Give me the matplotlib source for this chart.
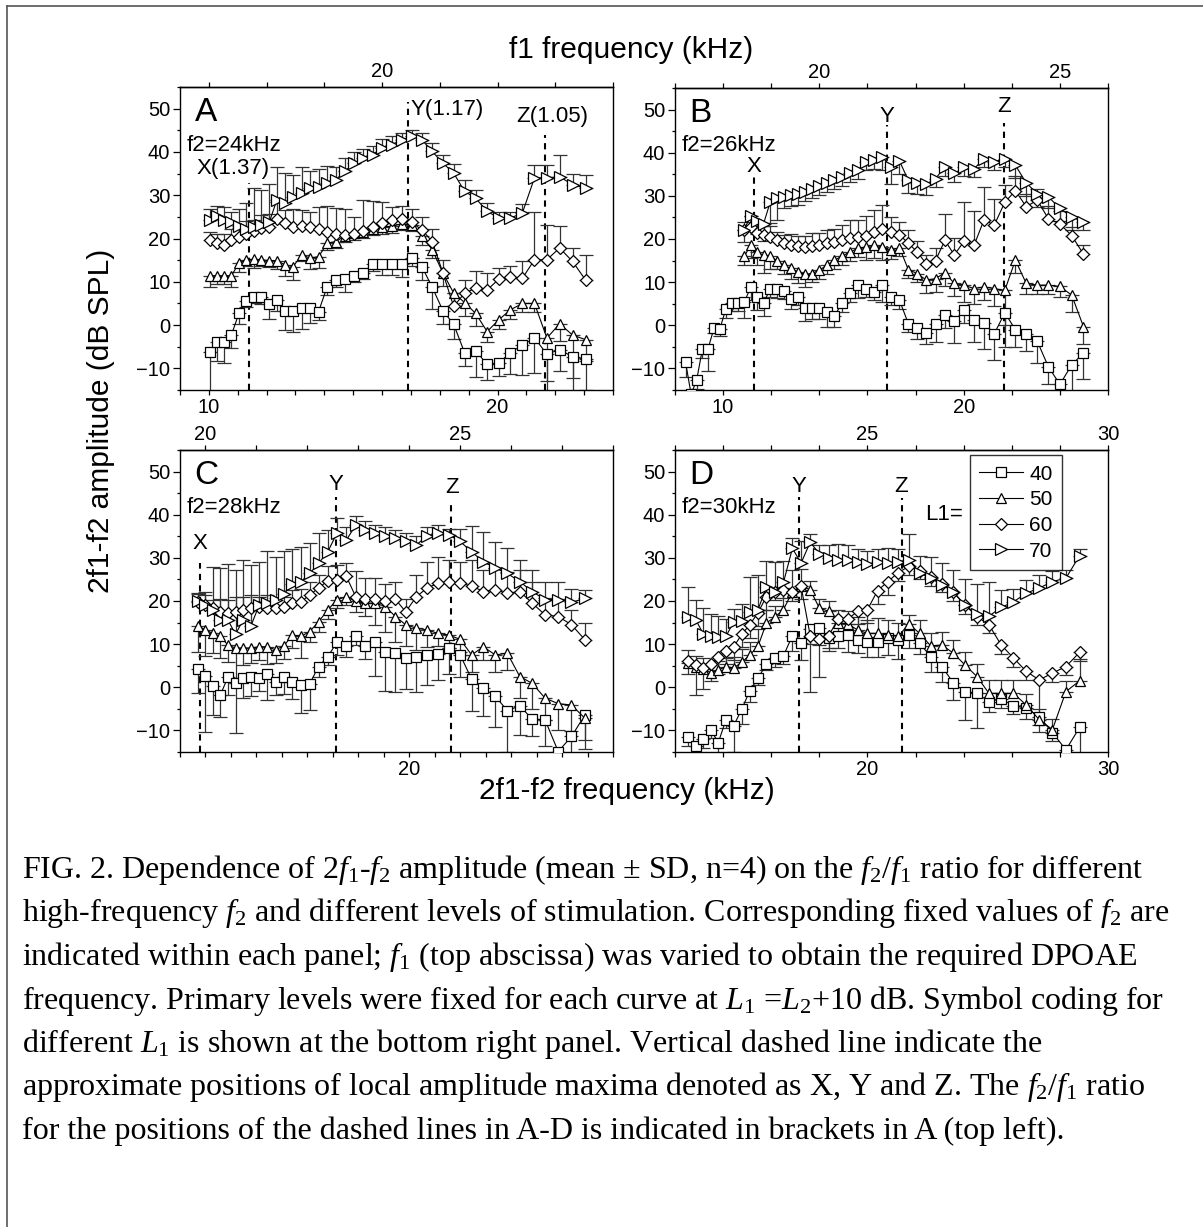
import numpy as np
import matplotlib
matplotlib.use("Agg")
import matplotlib.pyplot as plt
from matplotlib.lines import Line2D
from matplotlib.ticker import MultipleLocator

# 2f1-f2 frequency (kHz) of the measured points (f2/f1 from 1.41 down to 1.02)
A_FDP = [10.04, 10.29, 10.53, 10.78, 11.04, 11.29, 11.56, 11.82, 12.09, 12.36,
         12.64, 12.92, 13.21, 13.50, 13.80, 14.10, 14.40, 14.71, 15.02, 15.34,
         15.67, 16.00, 16.34, 16.68, 17.03, 17.38, 17.74, 18.11, 18.48, 18.86,
         19.24, 19.64, 20.04, 20.44, 20.86, 21.28, 21.71, 22.15, 22.60, 23.06]
B_FDP = [8.44, 8.67, 8.90, 9.14, 9.37, 9.62, 9.86, 10.11, 10.36, 10.62,
         10.88, 11.14, 11.41, 11.68, 11.96, 12.24, 12.52, 12.81, 13.10, 13.39,
         13.69, 14.00, 14.31, 14.63, 14.94, 15.27, 15.60, 15.94, 16.28, 16.62,
         16.98, 17.33, 17.70, 18.07, 18.44, 18.83, 19.22, 19.61, 20.02, 20.43,
         20.85, 21.27, 21.71, 22.15, 22.60, 23.06, 23.52, 24.00, 24.49, 24.98]
C_FDP = [11.72, 12.00, 12.29, 12.58, 12.88, 13.18, 13.48, 13.79, 14.11, 14.42,
         14.75, 15.08, 15.41, 15.75, 16.09, 16.44, 16.80, 17.16, 17.53, 17.90,
         18.28, 18.67, 19.06, 19.46, 19.86, 20.28, 20.70, 21.12, 21.56, 22.00,
         22.45, 22.91, 23.38, 23.85, 24.34, 24.83, 25.33, 25.85, 26.37, 26.90]
D_FDP = [12.55, 12.86, 13.17, 13.48, 13.80, 14.12, 14.44, 14.78, 15.11, 15.45,
         15.80, 16.15, 16.51, 16.88, 17.24, 17.62, 18.00, 18.39, 18.78, 19.18,
         19.59, 20.00, 20.42, 20.85, 21.28, 21.72, 22.17, 22.63, 23.10, 23.57,
         24.05, 24.55, 25.05, 25.56, 26.07, 26.60, 27.14, 27.69, 28.25, 28.82]

F2_KHZ = [24, 26, 28, 30]
LEVELS = [40, 50, 60, 70]

# panel A, f2 = 24 kHz
A40 = [-6.3, -3.8, -3.8, -2.3, 2.7, 5.6, 6.6, 6.4, 4.9, 5.7,
       3.3, 3.3, 4.0, 4.0, 3.1, 8.9, 10.3, 10.6, 11.4, 12.1,
       14.1, 14.1, 14.1, 14.1, 15.6, 13.5, 8.7, 3.3, 0.2, -6.4,
       -5.9, -9.1, -8.8, -6.4, -4.6, -3.0, -6.7, -5.7, -7.3, -7.9]
A40_SD = [9, 4.5, 5, 3, 2.5, 1.5, 1.5, 1.5, 3.5, 2.5,
          4.5, 5, 5, 3.5, 2, 2, 1.5, 3, 1.5, 1.5,
          1.5, 2.5, 2.5, 3, 2, 3, 5, 3, 3.5, 3,
          6, 3.5, 3, 5, 7, 8, 9, 5, 8, 7]
A50 = [11.4, 11.4, 11.4, 11.4, 14.3, 15.1, 15.2, 15.1, 14.9, 14.9,
       13.9, 13.5, 16.2, 15.5, 15.8, 18.9, 19.3, 20.6, 21.2, 21.6,
       22.2, 22.6, 22.8, 23.4, 23.2, 20.5, 17.4, 12.0, 7.4, 5.2,
       2.7, -1.5, 1.2, 3.5, 5.0, 5.0, -3.0, 0.3, -2.3, -3.4]
A50_SD = [2.5, 2, 2, 2.5, 2, 1.5, 2, 1.5, 1.5, 2,
          2.5, 3, 1.5, 2.5, 2.5, 1.5, 1.5, 1.5, 1.5, 1.5,
          1.5, 1.5, 1.5, 1.5, 1.5, 2, 2, 3, 3, 3,
          3, 2.5, 2, 2, 2, 2, 10, 4, 10, 5]
A60 = [19.6, 19.0, 18.6, 19.6, 20.4, 21.1, 21.8, 22.5, 22.6, 24.4,
       23.5, 22.7, 23.0, 22.6, 22.3, 21.6, 21.0, 20.7, 21.0, 21.8,
       22.6, 23.5, 24.3, 24.5, 23.7, 22.0, 19.3, 12.0, 4.3, 7.4,
       8.5, 8.1, 10.6, 11.2, 10.8, 15.1, 15.1, 17.8, 14.7, 10.3]
A60_SD = [2, 2, 2.5, 2.5, 2, 3, 2.5, 3, 3, 4,
          3, 4, 3.5, 3.5, 5, 6, 6, 6, 4, 7,
          6, 5, 3, 3, 3, 3, 3, 3, 3, 3,
          4, 4, 2.5, 2.5, 4, 11, 8, 5, 3, 6]
A70 = [24.3, 25.1, 24.3, 23.7, 22.8, 22.2, 22.6, 23.2, 23.7, 29.0,
       28.2, 29.7, 30.5, 31.6, 32.0, 32.8, 33.6, 35.5, 37.4, 38.6,
       39.4, 40.9, 41.7, 42.8, 43.6, 42.8, 40.1, 37.4, 35.1, 30.9,
       29.3, 26.3, 24.7, 24.7, 25.9, 34.0, 34.0, 34.3, 32.4, 31.6]
A70_SD = [2.5, 2.5, 3, 2.5, 4, 6, 9, 8, 9, 7.5,
          7, 5, 6, 4, 4, 4, 3, 3, 2.5, 2,
          2, 2, 2, 1.5, 1.5, 1.5, 2, 2, 2, 2.5,
          2, 2, 1.5, 1.5, 2, 3, 3, 5, 2.5, 3]

# panel B, f2 = 26 kHz (L1 = 50..70 start at the 11th point)
B40 = [-8.6, -16, -12.7, -5.5, -5.5, -0.7, -0.9, 3.7, 5.2, 5.2,
       5.3, 8.8, 6.6, 5.1, 8.5, 8.3, 8.0, 6.2, 6.6, 3.9,
       3.9, 3.9, 3.0, 2.2, 5.1, 7.4, 9.3, 8.5, 7.8, 9.3,
       6.6, 5.8, 0.4, -0.6, -1.9, 0.2, 2.4, 1.0, 3.5, 1.2,
       0.6, -2.0, 2.9, -1.0, -2.0, -3.7, -9.6, -13.7, -9.2, -6.4]
B40_SD = [3.5, 2, 2, 2, 5, 1, 1.5, 2, 2, 2,
          3.5, 3, 3, 3, 2, 2, 2, 2.5, 2, 3,
          2.5, 2.5, 3.5, 2.5, 2, 2, 3, 2, 2, 4,
          2, 2, 2, 2.5, 2.5, 4, 3, 5, 3, 5,
          6, 6, 8, 4, 4, 5, 4, 3, 6, 6]
B50 = [16.0, 18.5, 17.0, 16.2, 16.0, 15.0, 13.9, 13.2, 12.4, 11.8,
       12.0, 12.8, 13.9, 15.1, 16.0, 17.0, 17.8, 18.2, 18.5, 18.2,
       17.4, 18.0, 12.9, 12.0, 10.5, 10.8, 12.2, 9.7, 9.3, 8.5,
       8.9, 8.5, 8.1, 15.1, 9.7, 9.3, 9.3, 9.0, 7.0, -0.3]
B50_SD = [2, 3, 3, 4, 3, 2, 2, 2.5, 2.5, 3,
          2, 2, 2, 2, 2, 2, 2, 3, 3, 3,
          2, 2, 2, 2, 3, 3, 3, 3, 4, 3.5,
          3, 4, 8, 3, 2.5, 2, 2, 2.5, 4, 4]
B60 = [22.0, 22.8, 21.4, 20.9, 20.4, 19.7, 19.0, 18.6, 18.3, 18.2,
       18.3, 18.5, 19.0, 19.3, 19.8, 20.3, 20.5, 20.8, 21.7, 22.4,
       21.7, 21.0, 19.0, 17.0, 14.3, 15.0, 19.7, 16.3, 19.5, 18.5,
       24.5, 23.2, 28.5, 31.2, 27.5, 29.0, 24.7, 23.5, 20.8, 16.5]
B60_SD = [2, 2.5, 2, 2, 2.5, 2, 2, 2.5, 2.5, 2.5,
          3, 3, 3, 3, 3.5, 4, 4, 4.5, 5, 5.5,
          3.5, 3, 3, 2.5, 2, 3, 6, 4, 9, 8,
          7.5, 6, 4, 3.5, 3, 2.5, 3, 3, 2, 2]
B70 = [22.2, 25.3, 24.2, 23.5, 28.6, 29.4, 29.8, 30.2, 30.4, 30.8,
       31.5, 32.2, 33.0, 33.6, 34.4, 35.2, 35.9, 37.9, 38.3, 39.0,
       36.7, 38.1, 33.6, 33.0, 32.7, 34.0, 36.7, 35.2, 36.6, 36.3,
       38.6, 37.9, 38.6, 37.1, 33.0, 30.5, 29.8, 27.1, 25.1, 24.0]
B70_SD = [3, 3, 3, 4, 5, 5, 2.5, 2.5, 2.5, 2,
          2, 2, 2, 2, 2, 2, 2, 2, 2, 3,
          4, 3, 3, 2.5, 2.5, 2, 2, 2, 2, 2,
          2, 2, 2, 3, 3, 3, 2.5, 3, 3, 2]

# panel C, f2 = 28 kHz
C40 = [4.2, 2.6, 0.3, -1.8, 2.3, 1.1, 2.1, 2.5, 2.1, 3.0,
       1.3, 2.5, 1.3, 0.6, 0.8, 4.8, 7.1, 10.4, 9.6, 11.8,
       9.6, 10.6, 8.1, 7.9, 6.7, 7.0, 7.5, 7.7, 9.1, 7.5,
       1.9, -0.2, -2.1, -5.4, -4.3, -7.4, -7.5, -14.9, -11.4, -6.4]
C40_SD = [5.6, 13, 6.7, 5, 4, 11.6, 4.5, 4.5, 3, 6,
          3, 4, 4, 6.6, 6, 2.5, 2, 3, 2.5, 2,
          3, 8, 9, 9, 7, 8, 7, 6, 6, 5,
          7.5, 6.5, 7, 9.5, 6.7, 4, 6, 3, 4, 8]
C50 = [14.2, 13.3, 12.5, 11.8, 9.8, 9.1, 9.1, 9.1, 9.4, 9.4,
       8.7, 9.6, 12.1, 11.8, 12.9, 15.2, 17.9, 20.3, 21.0, 19.9,
       19.5, 19.5, 18.7, 16.4, 14.5, 13.7, 13.3, 12.5, 12.1, 11.1,
       7.5, 9.4, 7.5, 7.9, 2.5, 0.9, -2.5, -3.8, -4.1, -7.2]
C50_SD = [6, 6, 4.5, 5, 4, 8, 4, 3.5, 3, 4,
          3, 3, 3, 5, 2.5, 2.5, 2, 2, 2, 2.5,
          3, 5, 6, 6, 5, 5, 4, 3, 3, 3,
          4, 3, 4, 4, 5, 6, 5, 6, 6, 5]
C60 = [19.7, 19.0, 18.3, 17.5, 17.2, 17.5, 17.9, 18.3, 18.5, 18.3,
       18.3, 18.5, 19.5, 19.8, 21.4, 23.0, 24.7, 24.9, 25.7, 21.0,
       20.4, 20.4, 19.9, 20.4, 17.5, 21.0, 23.0, 24.1, 24.5, 24.1,
       23.5, 22.2, 22.6, 21.8, 22.2, 19.5, 16.8, 16.4, 14.5, 11.0]
C60_SD = [2, 2.5, 2, 3, 3, 3.5, 3, 3, 2.5, 3,
          2.5, 2.5, 3, 3, 3, 3, 3.5, 3.5, 3, 6,
          5, 5, 4, 4, 3, 5, 6, 6, 5, 5,
          6, 5, 5, 5, 5, 5, 4, 4, 3.5, 4]
C70 = [19.9, 19.1, 17.9, 15.6, 15.6, 12.3, 15.6, 14.3, 19.1, 19.5,
       20.3, 21.6, 24.0, 24.5, 26.4, 28.7, 31.4, 35.7, 34.1, 37.6,
       36.5, 35.7, 35.1, 34.5, 33.8, 33.0, 35.1, 35.7, 35.3, 33.8,
       31.4, 29.1, 27.6, 26.4, 24.5, 22.2, 20.3, 20.3, 19.7, 20.6]
C70_SD = [2, 3, 10, 12, 13, 15, 14, 14, 10, 12,
          10, 10, 8, 8, 7, 7, 5, 3.5, 3, 2,
          2, 2, 2, 2, 2, 2, 2, 2, 1.5, 3,
          6, 7, 6, 6, 5, 5, 4, 4, 3, 2]

# panel D, f2 = 30 kHz
D40 = [-11.5, -13.5, -12.0, -9.8, -12.8, -7.5, -8.9, -5.0, -0.8, 2.1,
       5.4, 6.8, 7.3, 12.0, 10.3, 13.5, 13.7, 11.5, 12.0, 12.2,
       11.0, 10.6, 10.6, 11.4, 11.0, 12.2, 10.2, 7.1, 4.8, 1.0,
       -1.0, -1.4, -3.3, -2.7, -4.3, -4.8, -6.8, -10.5, -14.5, -9.3]
D40_SD = [2, 2, 2, 2, 3, 2, 6, 3.5, 2.5, 1.5,
          1.5, 2, 2, 3.5, 4, 3.5, 4, 3, 3, 4,
          3, 3.5, 3.5, 4, 4.5, 3, 2.5, 3.5, 3.5, 4,
          6.5, 8, 2.5, 2, 2, 2.5, 2, 2, 2, 6]
D50 = [5.6, 4.8, 4.2, 3.4, 4.0, 4.8, 4.5, 5.8, 7.5, 9.5,
       14.9, 16.3, 18.0, 22.2, 23.5, 22.6, 18.4, 17.6, 15.0, 14.7,
       13.3, 12.5, 12.5, 12.1, 11.8, 14.7, 12.5, 9.6, 9.8, 7.9,
       5.2, 2.5, -1.4, -1.4, -1.4, -4.1, -7.5, -9.8, -1.0, 1.5]
D50_SD = [3, 2.5, 2.5, 2, 2, 2, 2.5, 3, 3, 4,
          3, 2.5, 5, 5, 4, 2, 2, 2.5, 3, 3,
          3, 3, 3.5, 3.5, 3, 2, 3, 3, 3, 3,
          3, 3, 3, 3, 3, 2.5, 2.5, 2.5, 2.5, 5]
D60 = [6.0, 5.2, 4.5, 5.5, 7.1, 8.3, 9.4, 12.3, 14.5, 17.3,
       21.0, 22.2, 22.6, 22.0, 23.4, 12.0, 11.2, 12.0, 15.8, 15.8,
       17.6, 18.0, 22.4, 24.5, 26.6, 28.0, 27.0, 25.5, 24.0, 22.0,
       19.1, 16.4, 14.5, 9.8, 6.8, 3.7, 1.7, 3.3, 4.8, 8.1]
D60_SD = [3, 7, 5, 4, 4, 3, 3, 3, 3, 3,
          3, 2, 2, 2, 3, 13, 8.7, 3, 3, 3,
          3, 3, 3, 3, 2, 2, 2, 2, 2, 2,
          2, 2, 2, 2, 2, 2, 12, 2, 2, 2]
D70 = [16.3, 15.7, 12.4, 12.0, 11.6, 11.8, 15.2, 15.4, 17.5, 18.0,
       23.2, 22.0, 24.3, 32.2, 28.8, 33.6, 31.0, 29.9, 29.6, 29.5,
       29.0, 28.5, 29.0, 28.8, 29.0, 29.6, 26.4, 25.3, 23.7, 22.2,
       19.0, 17.0, 16.5, 18.5, 19.8, 21.8, 23.0, 24.5, 25.3, 30.5]
D70_SD = [7, 4.5, 6, 5, 5, 4, 3, 4, 8, 8,
          6, 7, 5, 2.5, 5, 2, 2, 3, 3.5, 3.5,
          3, 3, 3, 3.5, 3, 6, 4, 5, 5, 5,
          6, 7, 8, 4, 3, 3, 3, 2.5, 2, 1.5]

# dashed lines: (2f1-f2 kHz, top of line in dB, label)
A_PEAKS = [(11.39, 32.8, "X(1.37)"), (16.89, 51.6, "Y(1.17)"), (21.64, 43.9, "Z(1.05)")]
B_PEAKS = [(11.29, 34.4, "X"), (16.82, 46.4, "Y"), (21.68, 46.9, "Z")]
C_PEAKS = [(11.80, 28.8, "X"), (17.11, 44.1, "Y"), (21.64, 43.0, "Z")]
D_PEAKS = [(17.17, 44.1, "Y"), (21.45, 43.9, "Z")]

MARKERS = {40: "s", 50: "^", 60: "D", 70: ">"}
MSIZE = {40: 6.5, 50: 7.8, 60: 6.2, 70: 8.2}

CAPTION = [
    r"FIG. 2. Dependence of 2$f_1$-$f_2$ amplitude (mean ± SD, n=4) on the $f_2/f_1$ ratio for different",
    r"high-frequency $f_2$ and different levels of stimulation. Corresponding fixed values of $f_2$ are",
    r"indicated within each panel; $f_1$ (top abscissa) was varied to obtain the required DPOAE",
    r"frequency. Primary levels were fixed for each curve at $L_1$ =$L_2$+10 dB. Symbol coding for",
    r"different $L_1$ is shown at the bottom right panel. Vertical dashed line indicate the",
    r"approximate positions of local amplitude maxima denoted as X, Y and Z. The $f_2/f_1$ ratio",
    r"for the positions of the dashed lines in A-D is indicated in brackets in A (top left).",
]

W, H = 1203, 1227
TICK_FS = 14.5
NOTE_FS = 16
LABEL_FS = 21.5


def fig_rect(left, top, right, bottom):
    """Pixel box -> figure fraction rect"""
    return [left / W, 1 - bottom / H, (right - left) / W, (bottom - top) / H]


def draw_series(ax, x, y, sd, level, up):
    x = np.asarray(x, float)
    y = np.asarray(y, float)
    sd = np.asarray(sd, float)
    zero = np.zeros_like(sd)
    yerr = [zero, sd] if up else [sd, zero]
    ax.errorbar(x, y, yerr=yerr, fmt="none", ecolor="#333333", elinewidth=0.9,
                capsize=5, capthick=0.9, zorder=2)
    ax.plot(x, y, color="black", lw=0.8, marker=MARKERS[level], ms=MSIZE[level],
            mfc="white", mec="black", mew=0.9, zorder=3)


def style_panel(ax, f2, xlim, step):
    ax.set_xlim(*xlim)
    ax.set_ylim(-15, 55)
    ticks = np.arange(xlim[0], xlim[1] + 0.01, step)
    ax.set_xticks(ticks)
    ax.set_xticklabels([str(int(t)) if int(t) % 10 == 0 else "" for t in ticks])
    ax.yaxis.set_major_locator(MultipleLocator(10))
    ax.yaxis.set_minor_locator(MultipleLocator(5))
    ax.tick_params(axis="x", which="both", direction="out", length=3.6, width=0.9,
                   labelsize=TICK_FS, pad=2)
    ax.tick_params(axis="y", which="major", direction="out", length=5, width=0.9,
                   labelsize=TICK_FS, pad=2)
    ax.tick_params(axis="y", which="minor", direction="out", length=2.5, width=0.9)
    for sp in ax.spines.values():
        sp.set_linewidth(1.0)

    sec = ax.secondary_xaxis("top", functions=(lambda x: (x + f2) / 2,
                                               lambda f: 2 * f - f2))
    f1lo = (xlim[0] + f2) / 2
    f1hi = (xlim[1] + f2) / 2
    top_ticks = np.arange(np.ceil(f1lo), np.floor(f1hi) + 0.01, 1)
    sec.set_xticks(top_ticks)
    sec.set_xticklabels([str(int(t)) if int(t) % 5 == 0 else "" for t in top_ticks])
    sec.tick_params(direction="out", length=3.6, width=0.9, labelsize=TICK_FS, pad=1)
    sec.spines["top"].set_linewidth(1.0)


def draw_peaks(ax, peaks, label_pos):
    for (xp, ytop, lab), (tx, ty, ha) in zip(peaks, label_pos):
        ax.vlines(xp, -15, ytop, colors="black", lw=1.5, linestyles=(0, (3, 2.5)), zorder=1)
        ax.text(tx, ty, lab, ha=ha, va="center", fontsize=NOTE_FS)


def main():
    plt.rcParams["font.family"] = ["Liberation Sans", "DejaVu Sans"]
    plt.rcParams["mathtext.fontset"] = "custom"
    plt.rcParams["mathtext.rm"] = "Liberation Serif"
    plt.rcParams["mathtext.it"] = "Liberation Serif:italic"

    fig = plt.figure(figsize=(W / 100, H / 100), dpi=100)

    panels = [
        ("A", fig_rect(180, 87, 613, 390), F2_KHZ[0], (9, 24), 1, A_FDP,
         [(A40, A40_SD, 40, False), (A50, A50_SD, 50, False),
          (A60, A60_SD, 60, True), (A70, A70_SD, 70, True)],
         A_PEAKS, [(10.84, 36.2, "center"), (16.98, 49.9, "left"), (21.89, 48.1, "center")]),
        ("B", fig_rect(675, 88, 1108, 390), F2_KHZ[1], (8, 26), 2, B_FDP,
         [(B40, B40_SD, 40, False), (B50, B50_SD, 50, False),
          (B60, B60_SD, 60, True), (B70, B70_SD, 70, False)],
         B_PEAKS, [(11.29, 36.8, "center"), (16.82, 48.5, "center"), (21.70, 50.8, "center")]),
        ("C", fig_rect(180, 450, 613, 752), F2_KHZ[2], (11, 28), 1, C_FDP,
         [(C40, C40_SD, 40, False), (C50, C50_SD, 50, False),
          (C60, C60_SD, 60, True), (C70, C70_SD, 70, True)],
         C_PEAKS, [(11.80, 33.4, "center"), (17.11, 47.0, "center"), (21.67, 46.2, "center")]),
        ("D", fig_rect(675, 450, 1108, 752), F2_KHZ[3], (12, 30), 2, D_FDP,
         [(D40, D40_SD, 40, False), (D50, D50_SD, 50, True),
          (D60, D60_SD, 60, False), (D70, D70_SD, 70, True)],
         D_PEAKS, [(17.17, 46.6, "center"), (21.40, 46.6, "center")]),
    ]

    for letter, rect, f2, xlim, step, fdp, series, peaks, label_pos in panels:
        ax = fig.add_axes(rect)
        style_panel(ax, f2, xlim, step)
        draw_peaks(ax, peaks, label_pos)
        for y, sd, level, up in series:
            x = fdp[len(fdp) - len(y):]
            draw_series(ax, x, y, sd, level, up)
        ax.text(0.034, 0.915, letter, transform=ax.transAxes, fontsize=24,
                ha="left", va="center")
        ax.text(0.016, 0.808, f"f2={f2}kHz", transform=ax.transAxes, fontsize=NOTE_FS,
                ha="left", va="center")

        if letter == "D":
            handles = [Line2D([], [], color="black", lw=0.8, marker=MARKERS[lv],
                              ms=MSIZE[lv], mfc="white", mec="black", mew=0.9)
                       for lv in LEVELS]
            leg = ax.legend(handles, [str(lv) for lv in LEVELS], loc="upper right",
                            bbox_to_anchor=(0.894, 0.983), frameon=True, fancybox=False,
                            edgecolor="black", fontsize=15, handlelength=2.1,
                            handletextpad=0.3, labelspacing=0.32, borderpad=0.45,
                            borderaxespad=0)
            leg.get_frame().set_linewidth(1.0)
            ax.text(0.665, 0.785, "L1=", transform=ax.transAxes, fontsize=NOTE_FS,
                    ha="right", va="center")

    fig.text(631 / W, 1 - 50 / H, "f1 frequency (kHz)", ha="center", va="center",
             fontsize=LABEL_FS)
    fig.text(627 / W, 1 - 791 / H, "2f1-f2 frequency (kHz)", ha="center", va="center",
             fontsize=LABEL_FS)
    fig.text(101 / W, 1 - 421 / H, "2f1-f2 amplitude (dB SPL)", ha="center", va="center",
             rotation=90, fontsize=LABEL_FS)

    for i, line in enumerate(CAPTION):
        fig.text(22 / W, 1 - (870 + i * 43.5) / H, line, ha="left", va="center",
                 fontsize=23, family="Liberation Serif")

    # page frame
    fig.add_artist(Line2D([7 / W, 1.0], [1 - 6 / H, 1 - 6 / H], color="#555555", lw=1.2))
    fig.add_artist(Line2D([7 / W, 7 / W], [0, 1 - 6 / H], color="#555555", lw=1.2))

    fig.savefig("out.png", dpi=100)


if __name__ == "__main__":
    main()
